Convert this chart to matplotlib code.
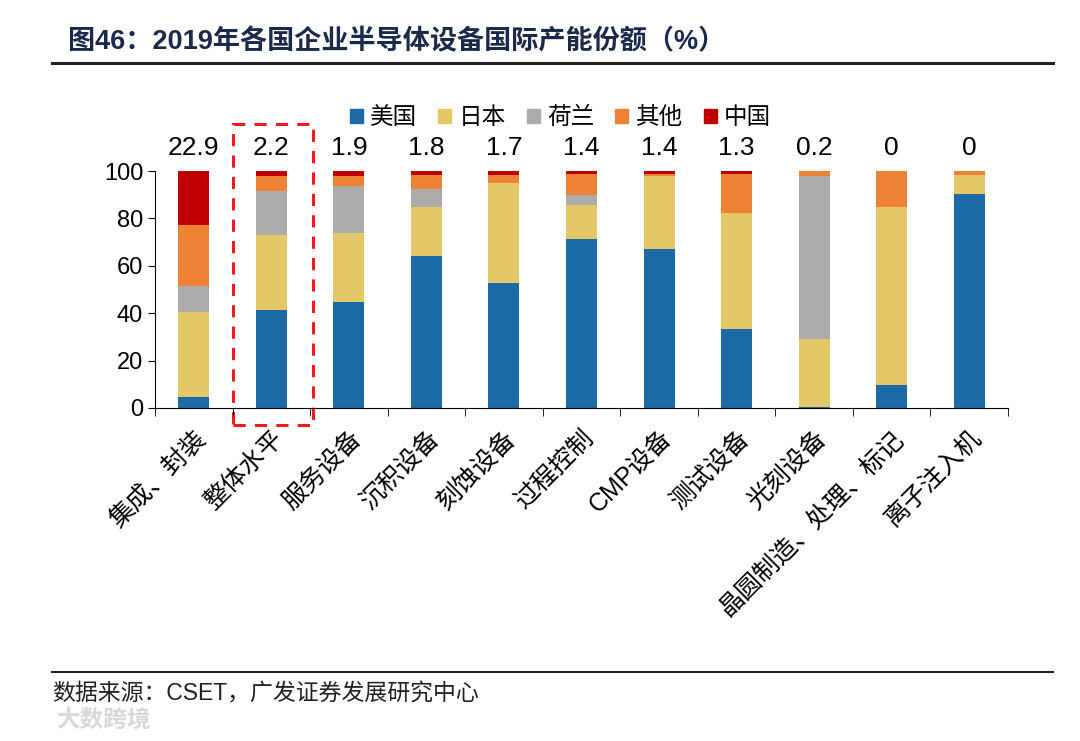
import numpy as np
import matplotlib.pyplot as plt
from matplotlib.patches import Rectangle, Patch
from matplotlib.lines import Line2D

plt.rcParams['font.family'] = ['Liberation Sans', 'Noto Sans CJK SC', 'DejaVu Sans']

categories = ['集成、封装', '整体水平', '服务设备', '沉积设备', '刻蚀设备', '过程控制',
              'CMP设备', '测试设备', '光刻设备', '晶圆制造、处理、标记', '离子注入机']
usa = [4.6, 41.5, 44.7, 64.0, 52.7, 71.2, 67.2, 33.2, 0.5, 9.6, 90.2]
japan = [35.9, 31.4, 29.0, 20.7, 42.3, 14.6, 30.7, 49.0, 28.5, 75.4, 8.1]
netherlands = [11.0, 18.6, 19.9, 7.8, 0.0, 4.0, 0.0, 0.0, 69.0, 0.0, 0.0]
other = [25.6, 6.3, 4.5, 5.7, 3.3, 8.8, 0.7, 16.5, 1.8, 15.0, 1.7]
china = [22.9, 2.2, 1.9, 1.8, 1.7, 1.4, 1.4, 1.3, 0.2, 0.0, 0.0]

series = [('美国', usa, '#1c6aa6'), ('日本', japan, '#e4c867'),
          ('荷兰', netherlands, '#aeabab'), ('其他', other, '#ee8234'),
          ('中国', china, '#c00000')]

fig = plt.figure(figsize=(10.8, 7.41), dpi=100)
ax = fig.add_axes([0.1435, 0.4494, 0.7898, 0.3198])

x = np.arange(len(categories))
bottom = np.zeros(len(categories))
for name, vals, col in series:
    ax.bar(x, vals, 0.4, bottom=bottom, color=col, label=name)
    bottom += np.array(vals)

# China share labels on top
for i, v in enumerate(china):
    ax.text(i, 109.6, '%g' % v, ha='center', va='center', fontsize=19)

ax.set_xlim(-0.5, len(categories) - 0.5)
ax.set_ylim(0, 100)
ax.set_yticks(range(0, 101, 20))
ax.tick_params(axis='y', labelsize=17, length=5, direction='out')
ax.set_xticks(x)
ax.set_xticklabels(categories, rotation=45, ha='right', rotation_mode='anchor',
                   fontsize=18, family=['Liberation Sans', 'Noto Sans CJK SC'])
ax.tick_params(axis='x', length=0, pad=13)
ax.set_xticks(np.arange(-0.5, len(categories)), minor=True)
ax.tick_params(axis='x', which='minor', length=6, direction='out')
for s in ['top', 'right']:
    ax.spines[s].set_visible(False)

# dashed highlight box
ax.add_patch(Rectangle((0.5, -7.3), 1.04, 127.1, fill=False, ls=(0, (4, 3)),
                       ec='#ee1c1c', lw=2.2, clip_on=False))

handles = [Patch(color=c, label=n) for n, _, c in series]
fig.legend(handles=handles, loc='center', bbox_to_anchor=(0.519, 0.841), ncol=5,
           frameon=False, handlelength=0.55, handleheight=0.55,
           handletextpad=0.3, columnspacing=0.9,
           prop={'family': ['Noto Sans CJK SC'], 'size': 17})

fig.text(0.063, 0.943, '图46：2019年各国企业半导体设备国际产能份额（%）',
         fontsize=19.5, fontweight='bold', color='#1b2a4a', va='center',
         family=['Liberation Sans', 'Noto Sans CJK SC'])
fig.add_artist(Line2D([0.048, 0.975], [0.915, 0.915], color='#222222', lw=2.2))
fig.add_artist(Line2D([0.048, 0.975], [0.093, 0.093], color='#222222', lw=1.5))
fig.text(0.048, 0.064, '数据来源：CSET，广发证券发展研究中心', fontsize=16.5,
         color='#222222', va='center', family=['Liberation Sans', 'Noto Sans CJK SC'])
fig.text(0.052, 0.029, '大数跨境', fontsize=17, color='#d8d8d8', va='center',
         fontweight='bold', family=['Noto Sans CJK SC'])

fig.savefig('out.png', dpi=100)
